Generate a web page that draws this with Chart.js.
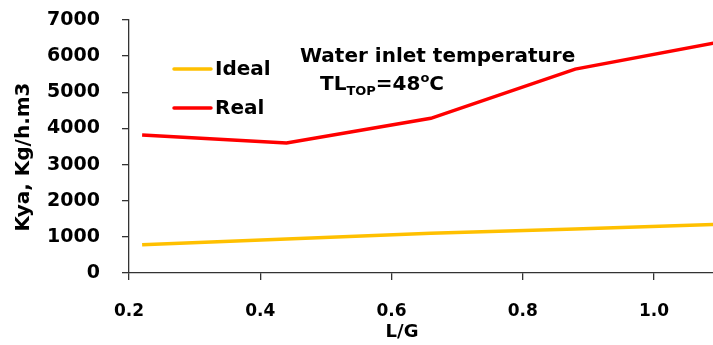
<!DOCTYPE html>
<html>
<head>
<meta charset="utf-8">
<script src="https://cdn.jsdelivr.net/npm/chart.js@4.4.1/dist/chart.umd.min.js"></script>
<style>
html,body{margin:0;padding:0;background:#fff;}
#wrap{width:713px;height:345px;position:relative;}
</style>
</head>
<body>
<div id="wrap"><canvas id="c" width="713" height="345"></canvas></div>
<script>
const lgValues = [0.22, 0.44, 0.66, 0.88, 1.10];
const idealKya = [780, 940, 1100, 1220, 1350];
const realKya = [3820, 3600, 4280, 5640, 6390];
const seriesNames = ['Ideal', 'Real'];
const xTickValues = [0.2, 0.4, 0.6, 0.8, 1.0];
const yTickStep = 1000;
const xAxisTitle = 'L/G';
const yAxisTitle = 'Kya, Kg/h.m3';
const annotationLine1 = 'Water inlet temperature';
const annotationLine2 = ['TL', 'TOP', '=48', 'o', 'C'];

const FONT = 'DejaVu Sans';

const overlay = {
  id: 'overlay',
  afterDatasetsDraw(chart) {
    const ctx = chart.ctx;
    ctx.save();
    // legend
    const ys = [69, 108];
    chart.data.datasets.forEach((ds, i) => {
      ctx.strokeStyle = ds.borderColor;
      ctx.lineWidth = 3.5;
      ctx.lineCap = 'round';
      ctx.beginPath();
      ctx.moveTo(174, ys[i]);
      ctx.lineTo(211, ys[i]);
      ctx.stroke();
      ctx.fillStyle = '#000';
      ctx.font = 'bold 20px "' + FONT + '"';
      ctx.textBaseline = 'middle';
      ctx.textAlign = 'left';
      ctx.fillText(ds.label, 215, ys[i] + 1);
    });
    // annotation
    ctx.textBaseline = 'alphabetic';
    ctx.font = 'bold 20px "' + FONT + '"';
    ctx.fillText(annotationLine1, 300, 62);
    let x = 320;
    const base = 90;
    const parts = [
      {t: annotationLine2[0], size: 20, dy: 0},
      {t: annotationLine2[1], size: 13, dy: 5},
      {t: annotationLine2[2], size: 20, dy: 0},
      {t: annotationLine2[3], size: 13, dy: -8},
      {t: annotationLine2[4], size: 20, dy: 0}
    ];
    parts.forEach(p => {
      ctx.font = 'bold ' + p.size + 'px "' + FONT + '"';
      ctx.fillText(p.t, x, base + p.dy);
      x += ctx.measureText(p.t).width;
    });
    // axis titles
    ctx.textAlign = 'center';
    ctx.textBaseline = 'middle';
    ctx.font = 'bold 18px "' + FONT + '"';
    ctx.fillText(xAxisTitle, 402, 332);
    ctx.translate(24, 157);
    ctx.rotate(-Math.PI / 2);
    ctx.font = 'bold 20px "' + FONT + '"';
    ctx.fillText(yAxisTitle, 0, 0);
    ctx.restore();
  }
};

new Chart(document.getElementById('c'), {
  type: 'line',
  data: {
    datasets: [
      {label: seriesNames[0], data: lgValues.map((v, i) => ({x: v, y: idealKya[i]})), borderColor: '#FFC000', backgroundColor: '#FFC000', borderWidth: 3.5, pointRadius: 0, tension: 0},
      {label: seriesNames[1], data: lgValues.map((v, i) => ({x: v, y: realKya[i]})), borderColor: '#FF0000', backgroundColor: '#FF0000', borderWidth: 3.5, pointRadius: 0, tension: 0}
    ]
  },
  options: {
    responsive: false,
    animation: false,
    devicePixelRatio: 1,
    layout: {padding: {top: 20, right: 0, bottom: 0, left: 0}},
    plugins: {legend: {display: false}, tooltip: {enabled: false}},
    scales: {
      x: {
        type: 'linear',
        min: 0.2,
        max: 1.09,
        afterBuildTicks(scale) {
          scale.ticks = xTickValues.map(v => ({value: v}));
        },
        afterFit(scale) {
          scale.height = 72;
          scale.paddingLeft = 0;
          scale.paddingRight = 0;
        },
        ticks: {
          color: '#000',
          font: {family: FONT, size: 17, weight: 'bold'},
          padding: 21,
          callback: v => Number(v).toFixed(1),
          maxRotation: 0
        },
        grid: {display: true, drawOnChartArea: false, drawTicks: true, tickLength: 7, color: '#333', lineWidth: 1.3},
        border: {display: true, color: '#333', width: 1.3},
        title: {display: false}
      },
      y: {
        min: 0,
        max: 7000,
        afterFit(scale) {
          scale.width = 129;
          scale.paddingTop = 0;
          scale.paddingBottom = 0;
        },
        ticks: {
          stepSize: yTickStep,
          color: '#000',
          font: {family: FONT, size: 19, weight: 'bold'},
          padding: 22,
          callback: v => String(v)
        },
        grid: {display: true, drawOnChartArea: false, drawTicks: true, tickLength: 7, color: '#333', lineWidth: 1.3},
        border: {display: true, color: '#333', width: 1.3},
        title: {display: false}
      }
    }
  },
  plugins: [overlay]
});
</script>
</body>
</html>
